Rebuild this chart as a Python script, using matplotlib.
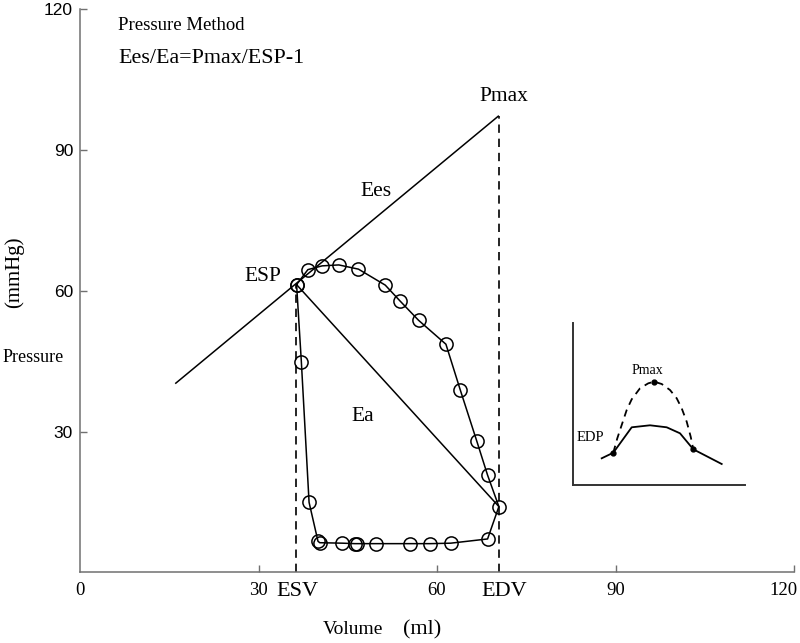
import matplotlib
matplotlib.use("Agg")
import matplotlib.pyplot as plt
from matplotlib.transforms import ScaledTranslation

# ---- data ----
loop_vol = [36.4, 37.2, 38.5, 40.0, 40.3, 44.1, 46.2, 46.6, 49.7, 55.4, 58.9, 62.3,
            68.5, 70.4, 68.5, 66.7, 63.9, 61.5, 56.9, 53.8, 51.3, 46.8, 43.5, 40.7, 38.3, 36.4]
loop_prs = [61.3, 44.9, 14.9, 6.6, 6.3, 6.2, 6.1, 6.1, 6.1, 6.1, 6.1, 6.2,
            7.1, 14.0, 20.7, 27.9, 38.9, 48.6, 53.7, 57.8, 61.2, 64.6, 65.5, 65.3, 64.5, 61.3]

ees_vol = [16.1, 70.3]
ees_prs = [40.3, 97.2]
ea_vol = [36.4, 70.4]
ea_prs = [61.3, 14.0]
esv = 36.3
edv = 70.4
esp = 61.3
pmax = 97.2

x_ticks = [0, 30, 60, 90, 120]
y_ticks = [30, 60, 90, 120]

# inset schematic (arbitrary units)
ins_solid_x = [29, 40.6, 59, 77.3, 94, 107.3, 120.6, 149]
ins_solid_y = [26.7, 32.3, 57.7, 59.7, 57.7, 51.7, 35.7, 21]
ins_dash_x = [40.6, 44.6, 49.0, 54.0, 59.0, 67.3, 75.6, 81.6, 89.0, 97.3, 104.0, 109.0, 114.0, 118.0, 120.6]
ins_dash_y = [32.3, 46.7, 60.0, 75.0, 85.7, 96.7, 101.7, 103.3, 101.0, 95.0, 86.7, 76.7, 63.3, 48.3, 35.7]
ins_dot_x = [40.6, 81.6, 120.6]
ins_dot_y = [32.3, 103.3, 35.7]

serif = "Liberation Serif"
sans = "Liberation Sans"

fig = plt.figure(figsize=(8.0, 6.43), dpi=100)
ax = fig.add_axes([0.1, 0.11, 0.8925, 0.8757])
ax.set_xlim(0, 120)
ax.set_ylim(0, 120)

spine_c = "#707070"
for s in ["top", "right"]:
    ax.spines[s].set_visible(False)
for s in ["left", "bottom"]:
    ax.spines[s].set_color(spine_c)
    ax.spines[s].set_linewidth(1.1)

ax.set_xticks(x_ticks)
ax.set_xticklabels([str(v) for v in x_ticks], fontfamily=serif, fontsize=13.5)
ax.set_yticks(y_ticks)
ax.set_yticklabels([str(v) for v in y_ticks], fontfamily=sans, fontsize=12.5)
ax.tick_params(axis="both", direction="in", length=5, width=1.0, color=spine_c)
ax.tick_params(axis="x", pad=7)
ax.tick_params(axis="y", pad=5)
ax.xaxis.get_major_ticks()[0].tick1line.set_visible(False)

# shift last x tick label so it stays inside the figure
last = ax.get_xticklabels()[-1]
last.set_horizontalalignment("right")
last.set_transform(last.get_transform() + ScaledTranslation(4 / 100, 0, fig.dpi_scale_trans))

# Ees line
ax.plot(ees_vol, ees_prs, color="black", lw=1.1)
# Ea line
ax.plot(ea_vol, ea_prs, color="black", lw=1.1)
# dashed verticals
ax.plot([esv, esv], [0, esp], color="black", lw=1.2, ls=(0, (5, 3.5)))
ax.plot([edv, edv], [0, pmax], color="black", lw=1.2, ls=(0, (5, 3.5)))
# PV loop
ax.plot(loop_vol, loop_prs, color="black", lw=1.1, marker="o", ms=9.5,
        mfc="none", mec="black", mew=1.1)

# labels
ax.text(esv + 0.2, -4.0, "ESV", ha="center", va="center", fontfamily=serif, fontsize=16,
        clip_on=False)
ax.text(edv + 0.9, -4.0, "EDV", ha="center", va="center", fontfamily=serif, fontsize=16,
        clip_on=False)
ax.text(71.3, 101.3, "Pmax", ha="center", va="center", fontfamily=serif, fontsize=15.5)
ax.text(49.8, 81.2, "Ees", ha="center", va="center", fontfamily=serif, fontsize=15.5)
ax.text(30.8, 63.1, "ESP", ha="center", va="center", fontfamily=serif, fontsize=15.5)
ax.text(47.6, 33.1, "Ea", ha="center", va="center", fontfamily=serif, fontsize=15.5)
ax.text(6.4, 116.6, "Pressure Method", ha="left", va="center", fontfamily=serif, fontsize=13.5)
ax.text(6.4, 109.5, "Ees/Ea=Pmax/ESP-1", ha="left", va="center", fontfamily=serif, fontsize=15.8)

fig.text(323 / 800, 1 - 630 / 643, "Volume", ha="left", va="center", fontfamily=serif, fontsize=14)
fig.text(403 / 800, 1 - 630 / 643, "(ml)", ha="left", va="center", fontfamily=serif, fontsize=16)
fig.text(33 / 800, 1 - 357 / 643, "Pressure", ha="center", va="center", fontfamily=serif, fontsize=13)
fig.text(14 / 800, 1 - 272 / 643, "(mmHg)", ha="center", va="center", rotation=90,
         fontfamily=serif, fontsize=15)

# inset
iax = fig.add_axes([572.7 / 800, 1 - 485 / 643, 172.3 / 800, 162 / 643])
iax.set_xlim(0, 172.3)
iax.set_ylim(0, 162)
for s in ["top", "right"]:
    iax.spines[s].set_visible(False)
for s in ["left", "bottom"]:
    iax.spines[s].set_color("#333333")
    iax.spines[s].set_linewidth(1.4)
iax.set_xticks([])
iax.set_yticks([])
iax.patch.set_alpha(0)
iax.plot(ins_solid_x, ins_solid_y, color="black", lw=1.3)
iax.plot(ins_dash_x, ins_dash_y, color="black", lw=1.3, ls=(0, (4, 3)))
iax.plot(ins_dot_x, ins_dot_y, "o", color="black", ms=3.5)
iax.text(74.6, 115, "Pmax", ha="center", va="center", fontfamily=serif, fontsize=10)
iax.text(17.3, 47.7, "EDP", ha="center", va="center", fontfamily=serif, fontsize=10.5)

fig.savefig("out.png", dpi=100)
